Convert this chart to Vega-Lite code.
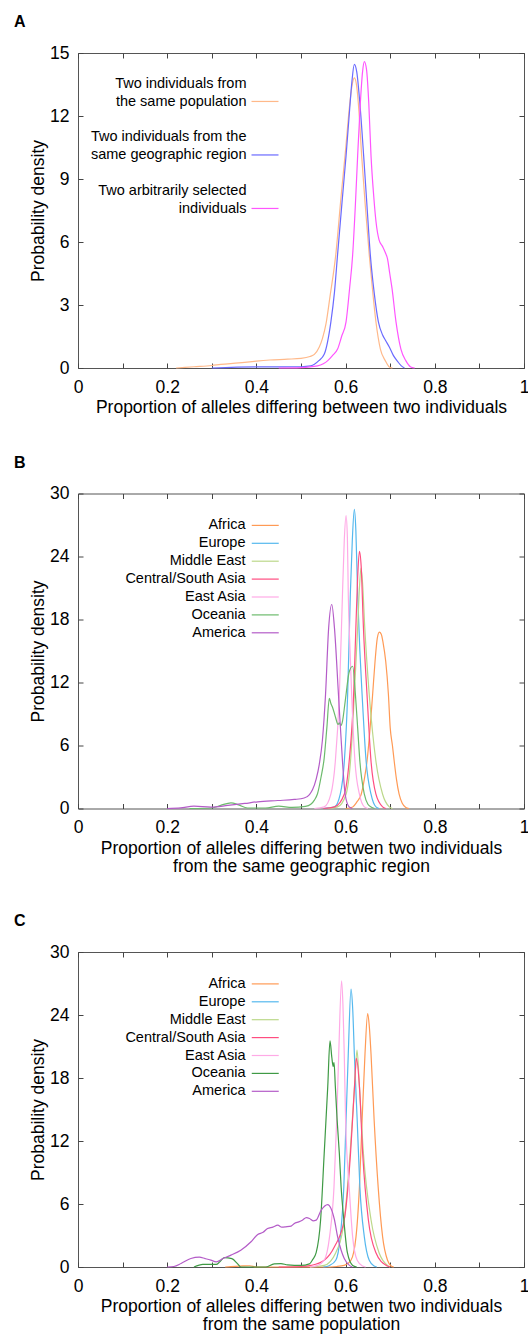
{
  "$schema": "https://vega.github.io/schema/vega-lite/v6.json",
  "padding": {"left": 13, "top": 13, "right": 0, "bottom": 0},
  "spacing": 36.5,
  "resolve": {"scale": {"color": "independent"}, "legend": {"color": "independent"}},
  "config": {
    "font": "Liberation Sans",
    "view": {"stroke": "#555", "strokeWidth": 1},
    "style": {"guide-label": {"lineHeight": 18}},
    "axis": {"domain": false, "grid": false, "labelFlush": false, "tickColor": "#444", "tickSize": -5, "labelFont": "Liberation Sans", "labelFontSize": 17.5, "labelColor": "#000", "titleFont": "Liberation Sans", "titleFontSize": 17.5, "titleFontWeight": "normal", "titleColor": "#000", "titleLineHeight": 18},
    "legend": {"orient": "none", "legendX": 179.75, "title": null, "labelAlign": "right", "labelOffset": -27.25, "symbolType": "M-2,0H2", "symbolSize": 182, "symbolStrokeWidth": 1.3, "labelFont": "Liberation Sans", "labelFontSize": 14.5, "labelColor": "#000", "labelLimit": 0, "padding": 0, "rowPadding": 2.9},
    "title": {"font": "Liberation Sans", "fontSize": 16, "fontWeight": "bold", "anchor": "start", "frame": "group", "dx": -64, "offset": 14, "color": "#000"},
    "line": {"strokeWidth": 1.2, "interpolate": "monotone"}
  },
  "datasets": {
    "A": [
      {"s": "Two individuals from the same population", "x": 0.22, "y": 0},
      {"s": "Two individuals from the same population", "x": 0.26, "y": 0.06},
      {"s": "Two individuals from the same population", "x": 0.3, "y": 0.12},
      {"s": "Two individuals from the same population", "x": 0.32, "y": 0.17},
      {"s": "Two individuals from the same population", "x": 0.36, "y": 0.24},
      {"s": "Two individuals from the same population", "x": 0.4, "y": 0.33},
      {"s": "Two individuals from the same population", "x": 0.43, "y": 0.38},
      {"s": "Two individuals from the same population", "x": 0.47, "y": 0.42},
      {"s": "Two individuals from the same population", "x": 0.5, "y": 0.46},
      {"s": "Two individuals from the same population", "x": 0.52, "y": 0.55},
      {"s": "Two individuals from the same population", "x": 0.53, "y": 0.65},
      {"s": "Two individuals from the same population", "x": 0.541, "y": 1.0},
      {"s": "Two individuals from the same population", "x": 0.548, "y": 1.4},
      {"s": "Two individuals from the same population", "x": 0.556, "y": 2.1},
      {"s": "Two individuals from the same population", "x": 0.565, "y": 3.4},
      {"s": "Two individuals from the same population", "x": 0.578, "y": 5.4},
      {"s": "Two individuals from the same population", "x": 0.59, "y": 8.2},
      {"s": "Two individuals from the same population", "x": 0.6, "y": 10.4},
      {"s": "Two individuals from the same population", "x": 0.608, "y": 12.3},
      {"s": "Two individuals from the same population", "x": 0.614, "y": 13.4},
      {"s": "Two individuals from the same population", "x": 0.6196, "y": 13.82},
      {"s": "Two individuals from the same population", "x": 0.625, "y": 13.4},
      {"s": "Two individuals from the same population", "x": 0.63, "y": 12.2},
      {"s": "Two individuals from the same population", "x": 0.636, "y": 10.1},
      {"s": "Two individuals from the same population", "x": 0.645, "y": 7.5},
      {"s": "Two individuals from the same population", "x": 0.653, "y": 5.4},
      {"s": "Two individuals from the same population", "x": 0.66, "y": 3.8},
      {"s": "Two individuals from the same population", "x": 0.668, "y": 2.2},
      {"s": "Two individuals from the same population", "x": 0.678, "y": 0.9},
      {"s": "Two individuals from the same population", "x": 0.689, "y": 0.35},
      {"s": "Two individuals from the same population", "x": 0.698, "y": 0.05},
      {"s": "Two individuals from the same population", "x": 0.705, "y": 0},
      {"s": "Two individuals from the same geographic region", "x": 0.3, "y": 0},
      {"s": "Two individuals from the same geographic region", "x": 0.4, "y": 0.05},
      {"s": "Two individuals from the same geographic region", "x": 0.5, "y": 0.06},
      {"s": "Two individuals from the same geographic region", "x": 0.522, "y": 0.1},
      {"s": "Two individuals from the same geographic region", "x": 0.54, "y": 0.35},
      {"s": "Two individuals from the same geographic region", "x": 0.552, "y": 0.65},
      {"s": "Two individuals from the same geographic region", "x": 0.567, "y": 2.2},
      {"s": "Two individuals from the same geographic region", "x": 0.575, "y": 3.6},
      {"s": "Two individuals from the same geographic region", "x": 0.582, "y": 5.4},
      {"s": "Two individuals from the same geographic region", "x": 0.592, "y": 7.9},
      {"s": "Two individuals from the same geographic region", "x": 0.601, "y": 10.1},
      {"s": "Two individuals from the same geographic region", "x": 0.609, "y": 12.3},
      {"s": "Two individuals from the same geographic region", "x": 0.614, "y": 13.6},
      {"s": "Two individuals from the same geographic region", "x": 0.6196, "y": 14.46},
      {"s": "Two individuals from the same geographic region", "x": 0.625, "y": 14.1},
      {"s": "Two individuals from the same geographic region", "x": 0.632, "y": 12.6},
      {"s": "Two individuals from the same geographic region", "x": 0.6405, "y": 10.1},
      {"s": "Two individuals from the same geographic region", "x": 0.648, "y": 7.7},
      {"s": "Two individuals from the same geographic region", "x": 0.6554, "y": 5.4},
      {"s": "Two individuals from the same geographic region", "x": 0.664, "y": 3.6},
      {"s": "Two individuals from the same geographic region", "x": 0.6735, "y": 2.2},
      {"s": "Two individuals from the same geographic region", "x": 0.683, "y": 1.57},
      {"s": "Two individuals from the same geographic region", "x": 0.69, "y": 1.3},
      {"s": "Two individuals from the same geographic region", "x": 0.698, "y": 1.0},
      {"s": "Two individuals from the same geographic region", "x": 0.707, "y": 0.6},
      {"s": "Two individuals from the same geographic region", "x": 0.717, "y": 0.3},
      {"s": "Two individuals from the same geographic region", "x": 0.725, "y": 0.1},
      {"s": "Two individuals from the same geographic region", "x": 0.732, "y": 0},
      {"s": "Two arbitrarily selected individuals", "x": 0.45, "y": 0},
      {"s": "Two arbitrarily selected individuals", "x": 0.5, "y": 0.02},
      {"s": "Two arbitrarily selected individuals", "x": 0.537, "y": 0.1},
      {"s": "Two arbitrarily selected individuals", "x": 0.55, "y": 0.2},
      {"s": "Two arbitrarily selected individuals", "x": 0.56, "y": 0.35},
      {"s": "Two arbitrarily selected individuals", "x": 0.571, "y": 0.6},
      {"s": "Two arbitrarily selected individuals", "x": 0.582, "y": 0.9},
      {"s": "Two arbitrarily selected individuals", "x": 0.591, "y": 1.5},
      {"s": "Two arbitrarily selected individuals", "x": 0.601, "y": 2.2},
      {"s": "Two arbitrarily selected individuals", "x": 0.609, "y": 3.8},
      {"s": "Two arbitrarily selected individuals", "x": 0.6158, "y": 5.38},
      {"s": "Two arbitrarily selected individuals", "x": 0.622, "y": 7.8},
      {"s": "Two arbitrarily selected individuals", "x": 0.627, "y": 10.1},
      {"s": "Two arbitrarily selected individuals", "x": 0.633, "y": 12.6},
      {"s": "Two arbitrarily selected individuals", "x": 0.638, "y": 14.1},
      {"s": "Two arbitrarily selected individuals", "x": 0.642, "y": 14.59},
      {"s": "Two arbitrarily selected individuals", "x": 0.647, "y": 14.2},
      {"s": "Two arbitrarily selected individuals", "x": 0.652, "y": 12.6},
      {"s": "Two arbitrarily selected individuals", "x": 0.657, "y": 10.1},
      {"s": "Two arbitrarily selected individuals", "x": 0.663, "y": 8.2},
      {"s": "Two arbitrarily selected individuals", "x": 0.668, "y": 7.0},
      {"s": "Two arbitrarily selected individuals", "x": 0.675, "y": 6.1},
      {"s": "Two arbitrarily selected individuals", "x": 0.683, "y": 5.78},
      {"s": "Two arbitrarily selected individuals", "x": 0.689, "y": 5.5},
      {"s": "Two arbitrarily selected individuals", "x": 0.694, "y": 5.2},
      {"s": "Two arbitrarily selected individuals", "x": 0.699, "y": 4.5},
      {"s": "Two arbitrarily selected individuals", "x": 0.704, "y": 3.8},
      {"s": "Two arbitrarily selected individuals", "x": 0.713, "y": 2.2},
      {"s": "Two arbitrarily selected individuals", "x": 0.724, "y": 0.9},
      {"s": "Two arbitrarily selected individuals", "x": 0.735, "y": 0.35},
      {"s": "Two arbitrarily selected individuals", "x": 0.746, "y": 0.05},
      {"s": "Two arbitrarily selected individuals", "x": 0.755, "y": 0}
    ],
    "B": [
      {"s": "Africa", "x": 0.6, "y": 0}, {"s": "Africa", "x": 0.616, "y": 0.15}, {"s": "Africa", "x": 0.625, "y": 0.6}, {"s": "Africa", "x": 0.635, "y": 1.36}, {"s": "Africa", "x": 0.642, "y": 2.8}, {"s": "Africa", "x": 0.648, "y": 4.5}, {"s": "Africa", "x": 0.655, "y": 7.7}, {"s": "Africa", "x": 0.6606, "y": 10.86}, {"s": "Africa", "x": 0.666, "y": 14.0}, {"s": "Africa", "x": 0.671, "y": 16.2}, {"s": "Africa", "x": 0.6756, "y": 16.8}, {"s": "Africa", "x": 0.68, "y": 16.6}, {"s": "Africa", "x": 0.684, "y": 15.8}, {"s": "Africa", "x": 0.69, "y": 14.0}, {"s": "Africa", "x": 0.696, "y": 10.86}, {"s": "Africa", "x": 0.7, "y": 7.7}, {"s": "Africa", "x": 0.705, "y": 6.0}, {"s": "Africa", "x": 0.709, "y": 4.5}, {"s": "Africa", "x": 0.714, "y": 2.8}, {"s": "Africa", "x": 0.72, "y": 1.36}, {"s": "Africa", "x": 0.727, "y": 0.5}, {"s": "Africa", "x": 0.735, "y": 0.1}, {"s": "Africa", "x": 0.742, "y": 0},
      {"s": "Europe", "x": 0.55, "y": 0}, {"s": "Europe", "x": 0.575, "y": 0.15}, {"s": "Europe", "x": 0.588, "y": 1.36}, {"s": "Europe", "x": 0.5972, "y": 4.5}, {"s": "Europe", "x": 0.6046, "y": 10.86}, {"s": "Europe", "x": 0.6106, "y": 20.4}, {"s": "Europe", "x": 0.615, "y": 25.5}, {"s": "Europe", "x": 0.6196, "y": 28.48}, {"s": "Europe", "x": 0.623, "y": 26.5}, {"s": "Europe", "x": 0.627, "y": 20.4}, {"s": "Europe", "x": 0.632, "y": 15.0}, {"s": "Europe", "x": 0.637, "y": 10.86}, {"s": "Europe", "x": 0.646, "y": 4.5}, {"s": "Europe", "x": 0.657, "y": 1.36}, {"s": "Europe", "x": 0.668, "y": 0.15}, {"s": "Europe", "x": 0.675, "y": 0},
      {"s": "Middle East", "x": 0.56, "y": 0}, {"s": "Middle East", "x": 0.582, "y": 0.15}, {"s": "Middle East", "x": 0.601, "y": 1.36}, {"s": "Middle East", "x": 0.611, "y": 4.5}, {"s": "Middle East", "x": 0.6196, "y": 10.86}, {"s": "Middle East", "x": 0.627, "y": 17.2}, {"s": "Middle East", "x": 0.631, "y": 21.0}, {"s": "Middle East", "x": 0.6345, "y": 22.9}, {"s": "Middle East", "x": 0.638, "y": 21.5}, {"s": "Middle East", "x": 0.643, "y": 17.2}, {"s": "Middle East", "x": 0.653, "y": 10.86}, {"s": "Middle East", "x": 0.668, "y": 4.5}, {"s": "Middle East", "x": 0.683, "y": 1.36}, {"s": "Middle East", "x": 0.698, "y": 0.15}, {"s": "Middle East", "x": 0.705, "y": 0},
      {"s": "Central/South Asia", "x": 0.55, "y": 0}, {"s": "Central/South Asia", "x": 0.575, "y": 0.15}, {"s": "Central/South Asia", "x": 0.597, "y": 1.36}, {"s": "Central/South Asia", "x": 0.608, "y": 4.5}, {"s": "Central/South Asia", "x": 0.618, "y": 10.86}, {"s": "Central/South Asia", "x": 0.623, "y": 17.2}, {"s": "Central/South Asia", "x": 0.627, "y": 22.0}, {"s": "Central/South Asia", "x": 0.631, "y": 24.5}, {"s": "Central/South Asia", "x": 0.635, "y": 23.0}, {"s": "Central/South Asia", "x": 0.64, "y": 17.2}, {"s": "Central/South Asia", "x": 0.648, "y": 10.86}, {"s": "Central/South Asia", "x": 0.657, "y": 4.5}, {"s": "Central/South Asia", "x": 0.668, "y": 1.36}, {"s": "Central/South Asia", "x": 0.683, "y": 0.15}, {"s": "Central/South Asia", "x": 0.69, "y": 0},
      {"s": "East Asia", "x": 0.53, "y": 0}, {"s": "East Asia", "x": 0.552, "y": 0.15}, {"s": "East Asia", "x": 0.567, "y": 1.36}, {"s": "East Asia", "x": 0.577, "y": 4.5}, {"s": "East Asia", "x": 0.586, "y": 10.86}, {"s": "East Asia", "x": 0.593, "y": 20.4}, {"s": "East Asia", "x": 0.597, "y": 25.5}, {"s": "East Asia", "x": 0.601, "y": 27.9}, {"s": "East Asia", "x": 0.604, "y": 25.8}, {"s": "East Asia", "x": 0.606, "y": 20.4}, {"s": "East Asia", "x": 0.61, "y": 15.0}, {"s": "East Asia", "x": 0.6136, "y": 10.86}, {"s": "East Asia", "x": 0.621, "y": 4.5}, {"s": "East Asia", "x": 0.631, "y": 1.36}, {"s": "East Asia", "x": 0.642, "y": 0.15}, {"s": "East Asia", "x": 0.65, "y": 0},
      {"s": "Oceania", "x": 0.25, "y": 0}, {"s": "Oceania", "x": 0.3, "y": 0.05}, {"s": "Oceania", "x": 0.32, "y": 0.3}, {"s": "Oceania", "x": 0.343, "y": 0.54}, {"s": "Oceania", "x": 0.36, "y": 0.35}, {"s": "Oceania", "x": 0.38, "y": 0.05}, {"s": "Oceania", "x": 0.42, "y": 0.05}, {"s": "Oceania", "x": 0.45, "y": 0.22}, {"s": "Oceania", "x": 0.48, "y": 0.1}, {"s": "Oceania", "x": 0.51, "y": 0.2}, {"s": "Oceania", "x": 0.522, "y": 0.4}, {"s": "Oceania", "x": 0.53, "y": 0.8}, {"s": "Oceania", "x": 0.537, "y": 1.4}, {"s": "Oceania", "x": 0.545, "y": 3.0}, {"s": "Oceania", "x": 0.552, "y": 4.8}, {"s": "Oceania", "x": 0.558, "y": 7.7}, {"s": "Oceania", "x": 0.5635, "y": 10.5}, {"s": "Oceania", "x": 0.567, "y": 10.0}, {"s": "Oceania", "x": 0.571, "y": 9.6}, {"s": "Oceania", "x": 0.578, "y": 8.6}, {"s": "Oceania", "x": 0.583, "y": 8.0}, {"s": "Oceania", "x": 0.586, "y": 8.16}, {"s": "Oceania", "x": 0.589, "y": 7.9}, {"s": "Oceania", "x": 0.593, "y": 8.3}, {"s": "Oceania", "x": 0.597, "y": 9.5}, {"s": "Oceania", "x": 0.601, "y": 10.86}, {"s": "Oceania", "x": 0.608, "y": 13.0}, {"s": "Oceania", "x": 0.6158, "y": 13.55}, {"s": "Oceania", "x": 0.622, "y": 10.86}, {"s": "Oceania", "x": 0.627, "y": 7.7}, {"s": "Oceania", "x": 0.632, "y": 4.5}, {"s": "Oceania", "x": 0.642, "y": 1.36}, {"s": "Oceania", "x": 0.65, "y": 0.4}, {"s": "Oceania", "x": 0.657, "y": 0.15}, {"s": "Oceania", "x": 0.665, "y": 0},
      {"s": "America", "x": 0.2, "y": 0}, {"s": "America", "x": 0.23, "y": 0.06}, {"s": "America", "x": 0.26, "y": 0.22}, {"s": "America", "x": 0.298, "y": 0.13}, {"s": "America", "x": 0.336, "y": 0.29}, {"s": "America", "x": 0.374, "y": 0.48}, {"s": "America", "x": 0.403, "y": 0.64}, {"s": "America", "x": 0.448, "y": 0.76}, {"s": "America", "x": 0.485, "y": 0.86}, {"s": "America", "x": 0.507, "y": 1.0}, {"s": "America", "x": 0.519, "y": 1.33}, {"s": "America", "x": 0.526, "y": 1.8}, {"s": "America", "x": 0.534, "y": 2.8}, {"s": "America", "x": 0.541, "y": 4.2}, {"s": "America", "x": 0.548, "y": 6.5}, {"s": "America", "x": 0.555, "y": 10.86}, {"s": "America", "x": 0.562, "y": 17.2}, {"s": "America", "x": 0.569, "y": 19.43}, {"s": "America", "x": 0.575, "y": 17.2}, {"s": "America", "x": 0.584, "y": 10.86}, {"s": "America", "x": 0.593, "y": 4.5}, {"s": "America", "x": 0.599, "y": 1.36}, {"s": "America", "x": 0.608, "y": 0.15}, {"s": "America", "x": 0.615, "y": 0}
    ],
    "C": [
      {"s": "Africa", "x": 0.33, "y": 0}, {"s": "Africa", "x": 0.37, "y": 0.1}, {"s": "Africa", "x": 0.385, "y": 0.12}, {"s": "Africa", "x": 0.4, "y": 0}, {"s": "Africa", "x": 0.55, "y": 0}, {"s": "Africa", "x": 0.58, "y": 0.05}, {"s": "Africa", "x": 0.597, "y": 0.15}, {"s": "Africa", "x": 0.612, "y": 0.64}, {"s": "Africa", "x": 0.6233, "y": 2.87}, {"s": "Africa", "x": 0.631, "y": 7.63}, {"s": "Africa", "x": 0.637, "y": 13.97}, {"s": "Africa", "x": 0.6435, "y": 20.3}, {"s": "Africa", "x": 0.6495, "y": 24.14}, {"s": "Africa", "x": 0.653, "y": 23.0}, {"s": "Africa", "x": 0.657, "y": 20.3}, {"s": "Africa", "x": 0.664, "y": 13.97}, {"s": "Africa", "x": 0.673, "y": 7.63}, {"s": "Africa", "x": 0.683, "y": 2.87}, {"s": "Africa", "x": 0.694, "y": 0.64}, {"s": "Africa", "x": 0.702, "y": 0.1}, {"s": "Africa", "x": 0.708, "y": 0},
      {"s": "Europe", "x": 0.55, "y": 0}, {"s": "Europe", "x": 0.564, "y": 0.15}, {"s": "Europe", "x": 0.578, "y": 0.64}, {"s": "Europe", "x": 0.588, "y": 2.87}, {"s": "Europe", "x": 0.596, "y": 7.63}, {"s": "Europe", "x": 0.601, "y": 13.97}, {"s": "Europe", "x": 0.606, "y": 20.3}, {"s": "Europe", "x": 0.6121, "y": 26.46}, {"s": "Europe", "x": 0.616, "y": 24.5}, {"s": "Europe", "x": 0.6196, "y": 20.3}, {"s": "Europe", "x": 0.626, "y": 13.97}, {"s": "Europe", "x": 0.632, "y": 7.63}, {"s": "Europe", "x": 0.642, "y": 2.87}, {"s": "Europe", "x": 0.653, "y": 0.64}, {"s": "Europe", "x": 0.664, "y": 0.1}, {"s": "Europe", "x": 0.67, "y": 0},
      {"s": "Middle East", "x": 0.52, "y": 0}, {"s": "Middle East", "x": 0.552, "y": 0.15}, {"s": "Middle East", "x": 0.578, "y": 1.36}, {"s": "Middle East", "x": 0.597, "y": 4.5}, {"s": "Middle East", "x": 0.61, "y": 10.8}, {"s": "Middle East", "x": 0.62, "y": 17.2}, {"s": "Middle East", "x": 0.6256, "y": 20.65}, {"s": "Middle East", "x": 0.631, "y": 17.2}, {"s": "Middle East", "x": 0.64, "y": 10.8}, {"s": "Middle East", "x": 0.657, "y": 4.5}, {"s": "Middle East", "x": 0.675, "y": 1.36}, {"s": "Middle East", "x": 0.694, "y": 0.15}, {"s": "Middle East", "x": 0.7, "y": 0},
      {"s": "Central/South Asia", "x": 0.45, "y": 0}, {"s": "Central/South Asia", "x": 0.5, "y": 0.05}, {"s": "Central/South Asia", "x": 0.522, "y": 0.15}, {"s": "Central/South Asia", "x": 0.552, "y": 0.64}, {"s": "Central/South Asia", "x": 0.575, "y": 1.93}, {"s": "Central/South Asia", "x": 0.597, "y": 4.5}, {"s": "Central/South Asia", "x": 0.611, "y": 10.8}, {"s": "Central/South Asia", "x": 0.62, "y": 17.2}, {"s": "Central/South Asia", "x": 0.624, "y": 19.86}, {"s": "Central/South Asia", "x": 0.631, "y": 17.2}, {"s": "Central/South Asia", "x": 0.6383, "y": 10.8}, {"s": "Central/South Asia", "x": 0.651, "y": 4.5}, {"s": "Central/South Asia", "x": 0.668, "y": 1.36}, {"s": "Central/South Asia", "x": 0.691, "y": 0.15}, {"s": "Central/South Asia", "x": 0.7, "y": 0},
      {"s": "East Asia", "x": 0.52, "y": 0}, {"s": "East Asia", "x": 0.537, "y": 0.15}, {"s": "East Asia", "x": 0.552, "y": 0.64}, {"s": "East Asia", "x": 0.564, "y": 2.87}, {"s": "East Asia", "x": 0.574, "y": 7.63}, {"s": "East Asia", "x": 0.58, "y": 13.97}, {"s": "East Asia", "x": 0.5846, "y": 20.3}, {"s": "East Asia", "x": 0.591, "y": 27.25}, {"s": "East Asia", "x": 0.594, "y": 25.0}, {"s": "East Asia", "x": 0.597, "y": 20.3}, {"s": "East Asia", "x": 0.6, "y": 13.97}, {"s": "East Asia", "x": 0.608, "y": 7.63}, {"s": "East Asia", "x": 0.6158, "y": 2.87}, {"s": "East Asia", "x": 0.626, "y": 0.64}, {"s": "East Asia", "x": 0.638, "y": 0.1}, {"s": "East Asia", "x": 0.645, "y": 0},
      {"s": "Oceania", "x": 0.26, "y": 0}, {"s": "Oceania", "x": 0.28, "y": 0.25}, {"s": "Oceania", "x": 0.31, "y": 0.25}, {"s": "Oceania", "x": 0.318, "y": 0.5}, {"s": "Oceania", "x": 0.328, "y": 0.9}, {"s": "Oceania", "x": 0.345, "y": 0.8}, {"s": "Oceania", "x": 0.358, "y": 0.3}, {"s": "Oceania", "x": 0.365, "y": 0}, {"s": "Oceania", "x": 0.42, "y": 0}, {"s": "Oceania", "x": 0.44, "y": 0.3}, {"s": "Oceania", "x": 0.455, "y": 0.33}, {"s": "Oceania", "x": 0.47, "y": 0.2}, {"s": "Oceania", "x": 0.5, "y": 0.15}, {"s": "Oceania", "x": 0.519, "y": 0.3}, {"s": "Oceania", "x": 0.526, "y": 0.7}, {"s": "Oceania", "x": 0.534, "y": 1.36}, {"s": "Oceania", "x": 0.544, "y": 4.5}, {"s": "Oceania", "x": 0.552, "y": 10.8}, {"s": "Oceania", "x": 0.56, "y": 17.2}, {"s": "Oceania", "x": 0.565, "y": 21.54}, {"s": "Oceania", "x": 0.569, "y": 20.0}, {"s": "Oceania", "x": 0.572, "y": 19.1}, {"s": "Oceania", "x": 0.574, "y": 19.5}, {"s": "Oceania", "x": 0.577, "y": 17.2}, {"s": "Oceania", "x": 0.581, "y": 14.0}, {"s": "Oceania", "x": 0.586, "y": 10.8}, {"s": "Oceania", "x": 0.59, "y": 7.6}, {"s": "Oceania", "x": 0.596, "y": 4.5}, {"s": "Oceania", "x": 0.604, "y": 1.36}, {"s": "Oceania", "x": 0.6158, "y": 0.15}, {"s": "Oceania", "x": 0.625, "y": 0},
      {"s": "America", "x": 0.2, "y": 0}, {"s": "America", "x": 0.215, "y": 0.05}, {"s": "America", "x": 0.231, "y": 0.33}, {"s": "America", "x": 0.253, "y": 0.81}, {"s": "America", "x": 0.272, "y": 0.94}, {"s": "America", "x": 0.285, "y": 0.8}, {"s": "America", "x": 0.298, "y": 0.65}, {"s": "America", "x": 0.31, "y": 0.49}, {"s": "America", "x": 0.325, "y": 0.81}, {"s": "America", "x": 0.343, "y": 1.13}, {"s": "America", "x": 0.365, "y": 1.6}, {"s": "America", "x": 0.388, "y": 2.4}, {"s": "America", "x": 0.403, "y": 3.1}, {"s": "America", "x": 0.415, "y": 3.3}, {"s": "America", "x": 0.425, "y": 3.67}, {"s": "America", "x": 0.437, "y": 3.8}, {"s": "America", "x": 0.448, "y": 3.98}, {"s": "America", "x": 0.457, "y": 3.8}, {"s": "America", "x": 0.466, "y": 3.83}, {"s": "America", "x": 0.478, "y": 3.9}, {"s": "America", "x": 0.485, "y": 4.14}, {"s": "America", "x": 0.495, "y": 4.3}, {"s": "America", "x": 0.503, "y": 4.46}, {"s": "America", "x": 0.512, "y": 4.7}, {"s": "America", "x": 0.519, "y": 4.62}, {"s": "America", "x": 0.527, "y": 4.4}, {"s": "America", "x": 0.534, "y": 4.46}, {"s": "America", "x": 0.545, "y": 5.4}, {"s": "America", "x": 0.56, "y": 5.95}, {"s": "America", "x": 0.567, "y": 5.6}, {"s": "America", "x": 0.575, "y": 4.5}, {"s": "America", "x": 0.582, "y": 2.9}, {"s": "America", "x": 0.59, "y": 1.6}, {"s": "America", "x": 0.597, "y": 0.81}, {"s": "America", "x": 0.608, "y": 0.18}, {"s": "America", "x": 0.615, "y": 0}
    ]
  },
  "vconcat": [
    {
      "width": 446, "height": 315,
      "title": {"text": "A"},
      "data": {"name": "A"},
      "layer": [
        {
          "mark": {"type": "line"},
          "encoding": {
            "x": {"field": "x", "type": "quantitative", "scale": {"domain": [0, 1], "nice": false},
              "axis": {"orient": "bottom", "values": [0, 0.1, 0.2, 0.3, 0.4, 0.5, 0.6, 0.7, 0.8, 0.9, 1], "labelExpr": "round(datum.value * 10) % 2 == 0 ? format(datum.value, '~g') : ''", "labelPadding": 15, "titlePadding": 3, "title": "Proportion of alleles differing between two individuals"}},
            "y": {"field": "y", "type": "quantitative", "scale": {"domain": [0, 15], "nice": false},
              "axis": {"orient": "left", "values": [0, 3, 6, 9, 12, 15], "labelPadding": 14, "titlePadding": 2, "title": "Probability density"}},
            "color": {"field": "s", "type": "nominal",
              "scale": {"domain": ["Two individuals from the same population", "Two individuals from the same geographic region", "Two arbitrarily selected individuals"], "range": ["#ffb98a", "#6a6aff", "#ff55ff"]},
              "legend": {"legendX": 172.5, "legendY": 16, "rowPadding": 14.5, "labelOffset": -33, "labelBaseline": "middle", "symbolSize": 729, "symbolType": "M-1,1.33H1", "labelExpr": "datum.label == 'Two individuals from the same population' ? ['Two individuals from', 'the same population'] : datum.label == 'Two individuals from the same geographic region' ? ['Two individuals from the', 'same geographic region'] : ['Two arbitrarily selected', 'individuals']"}}
          }
        },
        {
          "mark": {"type": "line", "strokeOpacity": 0},
          "encoding": {
            "x": {"field": "x", "type": "quantitative", "scale": {"domain": [0, 1], "nice": false},
              "axis": {"orient": "top", "values": [0, 0.1, 0.2, 0.3, 0.4, 0.5, 0.6, 0.7, 0.8, 0.9, 1], "labels": false, "title": null}},
            "y": {"field": "y", "type": "quantitative", "scale": {"domain": [0, 15], "nice": false},
              "axis": {"orient": "right", "values": [0, 3, 6, 9, 12, 15], "labels": false, "title": null}},
            "detail": {"field": "s"}
          }
        }
      ],
      "resolve": {"axis": {"x": "independent", "y": "independent"}}
    },
    {
      "width": 446, "height": 315,
      "title": {"text": "B"},
      "data": {"name": "B"},
      "layer": [
        {
          "mark": {"type": "line"},
          "encoding": {
            "x": {"field": "x", "type": "quantitative", "scale": {"domain": [0, 1], "nice": false},
              "axis": {"orient": "bottom", "values": [0, 0.1, 0.2, 0.3, 0.4, 0.5, 0.6, 0.7, 0.8, 0.9, 1], "labelExpr": "round(datum.value * 10) % 2 == 0 ? format(datum.value, '~g') : ''", "labelPadding": 15, "titlePadding": 3, "title": ["Proportion of alleles differing betwen two individuals", "from the same geographic region"]}},
            "y": {"field": "y", "type": "quantitative", "scale": {"domain": [0, 30], "nice": false},
              "axis": {"orient": "left", "values": [0, 6, 12, 18, 24, 30], "labelPadding": 14, "titlePadding": 2, "title": "Probability density"}},
            "color": {"field": "s", "type": "nominal",
              "scale": {"domain": ["Africa", "Europe", "Middle East", "Central/South Asia", "East Asia", "Oceania", "America"], "range": ["#ff9a55", "#55b8ee", "#bcd88a", "#ff4d80", "#ffaae6", "#6cba6c", "#b45cc8"]},
              "legend": {"legendY": 24.4}}
          }
        },
        {
          "mark": {"type": "line", "strokeOpacity": 0},
          "encoding": {
            "x": {"field": "x", "type": "quantitative", "scale": {"domain": [0, 1], "nice": false},
              "axis": {"orient": "top", "values": [0, 0.1, 0.2, 0.3, 0.4, 0.5, 0.6, 0.7, 0.8, 0.9, 1], "labels": false, "title": null}},
            "y": {"field": "y", "type": "quantitative", "scale": {"domain": [0, 30], "nice": false},
              "axis": {"orient": "right", "values": [0, 6, 12, 18, 24, 30], "labels": false, "title": null}},
            "detail": {"field": "s"}
          }
        }
      ],
      "resolve": {"axis": {"x": "independent", "y": "independent"}}
    },
    {
      "width": 446, "height": 315,
      "title": {"text": "C"},
      "data": {"name": "C"},
      "layer": [
        {
          "mark": {"type": "line"},
          "encoding": {
            "x": {"field": "x", "type": "quantitative", "scale": {"domain": [0, 1], "nice": false},
              "axis": {"orient": "bottom", "values": [0, 0.1, 0.2, 0.3, 0.4, 0.5, 0.6, 0.7, 0.8, 0.9, 1], "labelExpr": "round(datum.value * 10) % 2 == 0 ? format(datum.value, '~g') : ''", "labelPadding": 15, "titlePadding": 3, "title": ["Proportion of alleles differing betwen two individuals", "from the same population"]}},
            "y": {"field": "y", "type": "quantitative", "scale": {"domain": [0, 30], "nice": false},
              "axis": {"orient": "left", "values": [0, 6, 12, 18, 24, 30], "labelPadding": 14, "titlePadding": 2, "title": "Probability density"}},
            "color": {"field": "s", "type": "nominal",
              "scale": {"domain": ["Africa", "Europe", "Middle East", "Central/South Asia", "East Asia", "Oceania", "America"], "range": ["#ff9a55", "#55b8ee", "#bcd88a", "#ff4d80", "#ffaae6", "#3f9a45", "#b45cc8"]},
              "legend": {"legendY": 24.4}}
          }
        },
        {
          "mark": {"type": "line", "strokeOpacity": 0},
          "encoding": {
            "x": {"field": "x", "type": "quantitative", "scale": {"domain": [0, 1], "nice": false},
              "axis": {"orient": "top", "values": [0, 0.1, 0.2, 0.3, 0.4, 0.5, 0.6, 0.7, 0.8, 0.9, 1], "labels": false, "title": null}},
            "y": {"field": "y", "type": "quantitative", "scale": {"domain": [0, 30], "nice": false},
              "axis": {"orient": "right", "values": [0, 6, 12, 18, 24, 30], "labels": false, "title": null}},
            "detail": {"field": "s"}
          }
        }
      ],
      "resolve": {"axis": {"x": "independent", "y": "independent"}}
    }
  ]
}
